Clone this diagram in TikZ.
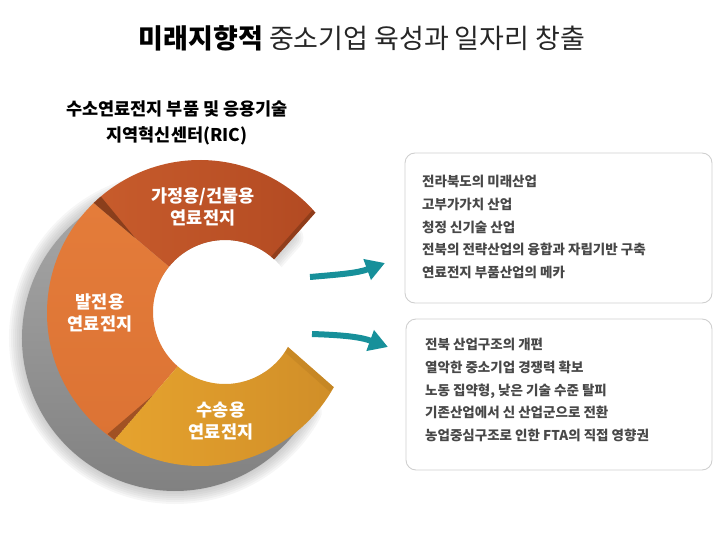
\documentclass[tikz,border=0pt]{standalone}
\usepackage{fontspec}
\setmainfont{Noto Sans CJK KR}
\usetikzlibrary{arrows.meta}

\definecolor{segtopA}{HTML}{C85C2C}
\definecolor{segtopB}{HTML}{B24A22}
\definecolor{segleftA}{HTML}{E47C3A}
\definecolor{segleftB}{HTML}{DC7334}
\definecolor{segbotA}{HTML}{E6A32E}
\definecolor{segbotB}{HTML}{D08E28}
\definecolor{shadeA}{HTML}{ABABAB}
\definecolor{shadeB}{HTML}{808080}
\definecolor{darkbrown}{HTML}{5A2810}
\definecolor{darkgold}{HTML}{A8701C}
\definecolor{arrowteal}{HTML}{17909A}
\definecolor{boxline}{HTML}{CFCFCF}
\definecolor{listgray}{HTML}{484848}

\tikzset{
	ringshape/.style={insert path={(315.47,337.38) arc[start angle=41,end angle=331,radius=153pt]
		-- (287.97,203.09) arc[start angle=331,end angle=47,radius=72pt] -- cycle}},
	segtop/.style={insert path={(315.47,337.38) arc[start angle=41,end angle=134,radius=153pt]
		-- (169.05,283.30) arc[start angle=141,end angle=47,radius=72pt] -- cycle}},
	segleft/.style={insert path={(93.71,347.05) arc[start angle=134,end angle=236,radius=153pt]
		-- (177.76,183.66) arc[start angle=229,end angle=141,radius=72pt] -- cycle}},
	segbot/.style={insert path={(114.44,110.16) arc[start angle=236,end angle=331,radius=153pt]
		-- (287.97,203.09) arc[start angle=331,end angle=229,radius=72pt] -- cycle}},
	seglabel/.style={text=white, font=\bfseries\fontsize{17.5}{22}\selectfont, align=center, inner sep=0pt},
	listbox/.style={draw=boxline, line width=0.9pt, rounded corners=10pt, minimum width=307pt, inner sep=0pt},
	listtext/.style={text=listgray, font=\bfseries\fontsize{13.5}{22.8}\selectfont, align=left, inner sep=0pt, anchor=west},
	flowarrow/.style={arrowteal, line width=6pt, -{Triangle[length=19pt,width=21pt]}}
}

\begin{document}
\begin{tikzpicture}[x=1pt,y=1pt]
	\useasboundingbox (0,0) rectangle (720,550);
	
	% title
	\node (title) at (362,512) [font=\fontsize{27}{32}\selectfont, text=black!85, inner sep=0pt]
		{{\bfseries\color{black} 미래지향적} 중소기업 육성과 일자리 창출};
	\node (ric) at (177,427) [font=\bfseries\fontsize{17.5}{26}\selectfont, align=center, inner sep=0pt]
		{수소연료전지 부품 및 응용기술\\지역혁신센터(RIC)};
	
	% shadow of the ring
	\begin{scope}[xshift=-25pt,yshift=-25pt]
		\foreach \w in {26,22,...,2}
			\draw[shadeB, line width=\w pt, opacity=0.07, line join=round, ringshape];
		\shade[top color=shadeA, bottom color=shadeB, ringshape];
	\end{scope}
	\fill[white] (225,238) circle[radius=72pt];
	
	% ring segments
	\shade[left color=segtopA, right color=segtopB, segtop];
	\shade[top color=segleftA, bottom color=segleftB, segleft];
	\shade[left color=segbotA, right color=segbotB, segbot];
	
	% dark edges
	\begin{scope}
		\clip[segtop];
		\fill[darkbrown, opacity=0.55] (93.71,347.05) -- (100.5,353.9) -- (135.1,312.0) -- cycle;
		\fill[darkbrown, opacity=0.4] (315.47,337.38) -- (274.10,290.70) -- (271.10,293.40) -- (312.50,340.00) -- cycle;
	\end{scope}
	\begin{scope}
		\clip[segleft];
		\fill[darkbrown, opacity=0.45] (114.44,110.16) -- (107.60,116.00) -- (152.40,154.30) -- cycle;
	\end{scope}
	\begin{scope}
		\clip[segbot];
		\fill[darkgold, opacity=0.25] (333.81,162.83) -- (287.97,203.09) -- (284.00,198.60) -- (329.80,158.30) -- cycle;
	\end{scope}
	
	% labels on the ring
	\node (home) at (203,343) [seglabel] {가정용/건물용\\연료전지};
	\node (power) at (100,237) [seglabel] {발전용\\연료전지};
	\node (trans) at (221,129) [seglabel] {수송용\\연료전지};
	
	% boxes
	\node (box1) at (558.5,322) [listbox, minimum height=150pt] {};
	\node (box2) at (559,155.5) [listbox, minimum height=151pt, minimum width=306pt] {};
	\node (list1) at (422,323) [listtext]
		{전라북도의 미래산업\\고부가가치 산업\\청정 신기술 산업\\전북의 전략산업의 융합과 자립기반 구축\\연료전지 부품산업의 메카};
	\node (list2) at (425,160) [listtext]
		{전북 산업구조의 개편\\열악한 중소기업 경쟁력 확보\\노동 집약형, 낮은 기술 수준 탈피\\기존산업에서 신 산업군으로 전환\\농업중심구조로 인한 FTA의 직접 영향권};
	
	% arrows
	\coordinate (a1s) at (310,273);
	\coordinate (a1e) at (385,287);
	\coordinate (a2s) at (312,216);
	\coordinate (a2e) at (388,203);
	\draw[flowarrow] (a1s) to[out=5,in=200] (a1e);
	\draw[flowarrow] (a2s) to[out=-2,in=160] (a2e);
\end{tikzpicture}
\end{document}
